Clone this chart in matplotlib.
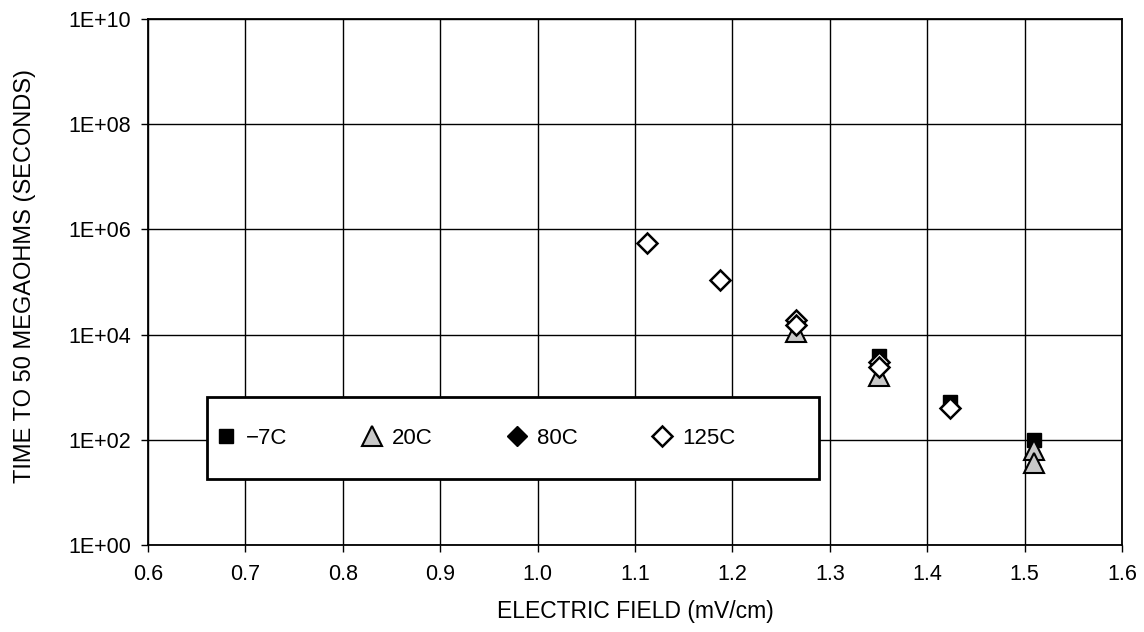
import matplotlib
matplotlib.use("Agg")
import matplotlib.pyplot as plt
import numpy as np
from matplotlib.patches import Rectangle
from matplotlib.ticker import FixedLocator, FuncFormatter

plt.rcParams['font.family'] = ['Liberation Sans', 'DejaVu Sans']

# data (electric field, time in seconds)
x_m7 = [1.350, 1.423, 1.510]
y_m7 = [3.9e3, 5.2e2, 1.0e2]

x_20 = [1.265, 1.350, 1.510, 1.510]
y_20 = [1.1e4, 1.6e3, 6.3e1, 3.6e1]

x_80 = [1.265, 1.350, 1.423]
y_80 = [1.5e4, 2.4e3, 4.0e2]

x_125 = [1.112, 1.187, 1.265, 1.265, 1.350, 1.350, 1.423]
y_125 = [5.5e5, 1.1e5, 1.9e4, 1.5e4, 3.0e3, 2.4e3, 4.0e2]

labels = ['\u22127C', '20C', '80C', '125C']
x_ticks = [0.6, 0.7, 0.8, 0.9, 1.0, 1.1, 1.2, 1.3, 1.4, 1.5, 1.6]
y_ticks = [1e0, 1e2, 1e4, 1e6, 1e8, 1e10]

fig = plt.figure(figsize=(11.44, 6.32), dpi=100)
ax = fig.add_axes([0.1294, 0.1377, 0.8514, 0.8323])

ax.set_yscale('log')
ax.set_xlim(0.6, 1.6)
ax.set_ylim(1e0, 1e10)
ax.xaxis.set_major_locator(FixedLocator(x_ticks))
ax.yaxis.set_major_locator(FixedLocator(y_ticks))
ax.yaxis.set_minor_locator(FixedLocator([]))
ax.xaxis.set_major_formatter(FuncFormatter(lambda v, p: f"{v:.1f}"))
ax.yaxis.set_major_formatter(FuncFormatter(lambda v, p: f"1E+{int(round(np.log10(v))):02d}"))
ax.grid(True, color='black', linewidth=1.0)
ax.tick_params(direction='out', length=5, width=1, labelsize=15.5, colors='black')
ax.tick_params(axis='x', pad=9)
ax.tick_params(axis='y', pad=7)
for s in ax.spines.values():
    s.set_linewidth(1.3)

h1, = ax.plot(x_m7, y_m7, 's', ms=10, mfc='black', mec='black', ls='none', zorder=3)
h2, = ax.plot(x_20, y_20, '^', ms=14, mfc='#c8c8c8', mec='black', mew=1.5, ls='none', zorder=4)
h3, = ax.plot(x_80, y_80, 'D', ms=10, mfc='black', mec='black', ls='none', zorder=5)
h4, = ax.plot(x_125, y_125, 'D', ms=10, mfc='white', mec='black', mew=1.8, ls='none', zorder=6)

ax.set_xlabel('ELECTRIC FIELD (mV/cm)', fontsize=16.5)
ax.set_ylabel('TIME TO 50 MEGAOHMS (SECONDS)', fontsize=17)
ax.xaxis.set_label_coords(0.5, -0.105)
ax.yaxis.set_label_coords(-0.115, 0.511)

# legend box
ax.add_patch(Rectangle((0.0606, 0.125), 0.628, 0.156, transform=ax.transAxes,
                       facecolor='white', edgecolor='black', linewidth=2, zorder=7))
leg = ax.legend([h1, h2, h3, h4], labels, loc='center left', ncol=4,
                bbox_to_anchor=(0.0685, 0.203), borderaxespad=0, borderpad=0,
                frameon=False, fontsize=16, handlelength=1.0, handletextpad=0.4,
                columnspacing=3.3)
leg.set_zorder(8)

fig.savefig('out.png', dpi=100)
